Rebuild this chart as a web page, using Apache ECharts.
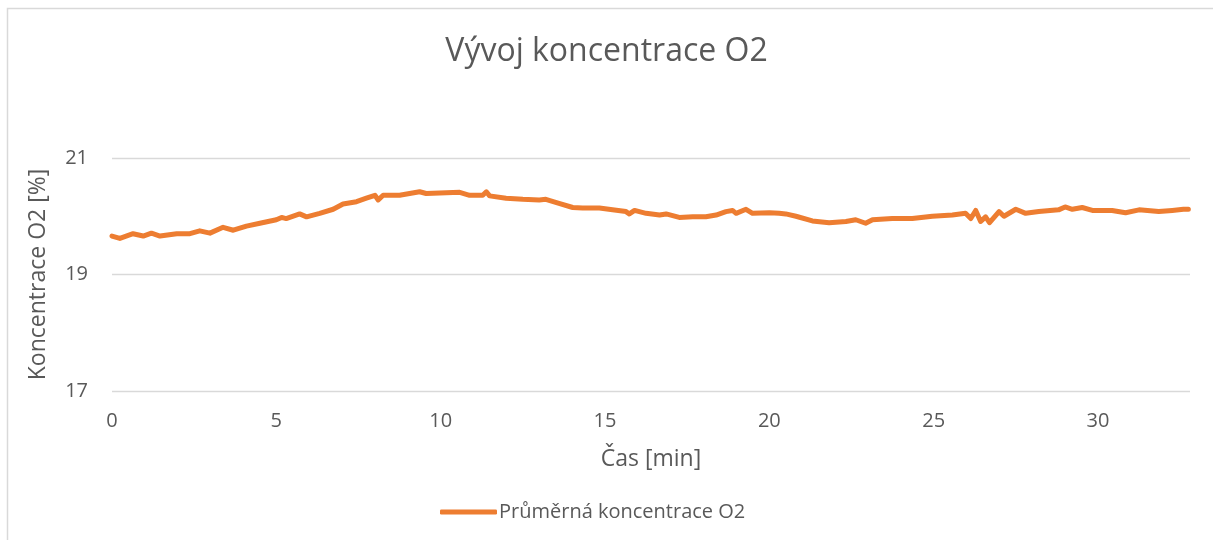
<!DOCTYPE html>
<html>
<head>
<meta charset="utf-8">
<script src="https://cdn.jsdelivr.net/npm/echarts@6/dist/echarts.min.js"></script>
<style>
  html, body { margin: 0; padding: 0; background: #fff; }
  #main { width: 1213px; height: 540px; }
</style>
</head>
<body>
<div id="main"></div>
<script>
// cas [min]
var casMin = [0, 0.24, 0.64, 0.95, 1.2, 1.46, 1.97, 2.37, 2.67, 2.98, 3.38, 3.69, 4.09, 4.5, 5.0, 5.16, 5.3, 5.71, 5.92, 6.32,
  6.73, 7.03, 7.44, 7.74, 8.0, 8.1, 8.25, 8.75, 9.36, 9.56, 9.97, 10.58, 10.88, 11.28, 11.39, 11.49, 11.99, 12.5, 13.0, 13.2,
  13.6, 14.02, 14.32, 14.83, 15.23, 15.64, 15.74, 15.9, 16.25, 16.66, 16.86, 17.26, 17.67, 18.07, 18.38, 18.68, 18.88, 18.99, 19.29, 19.49,
  20.0, 20.3, 20.5, 20.81, 21.31, 21.82, 22.33, 22.63, 22.93, 23.14, 23.74, 24.35, 24.96, 25.57, 25.97, 26.13, 26.28, 26.43, 26.58, 26.7,
  26.99, 27.14, 27.5, 27.8, 28.2, 28.8, 29.0, 29.22, 29.52, 29.83, 30.43, 30.84, 31.25, 31.85, 32.26, 32.6, 32.75];
// prumerna koncentrace O2 [%]
var koncentraceO2 = [19.66, 19.62, 19.70, 19.66, 19.71, 19.66, 19.70, 19.70, 19.75, 19.71, 19.81, 19.76, 19.83, 19.88, 19.94, 19.98, 19.96, 20.04, 19.99, 20.05,
  20.12, 20.21, 20.25, 20.31, 20.36, 20.28, 20.36, 20.36, 20.42, 20.39, 20.40, 20.41, 20.36, 20.36, 20.42, 20.35, 20.31, 20.29, 20.28, 20.29,
  20.22, 20.15, 20.14, 20.14, 20.11, 20.08, 20.04, 20.10, 20.05, 20.02, 20.04, 19.98, 19.99, 19.99, 20.02, 20.08, 20.10, 20.05, 20.12, 20.05,
  20.06, 20.05, 20.04, 20.00, 19.92, 19.89, 19.91, 19.94, 19.88, 19.94, 19.96, 19.96, 20.00, 20.02, 20.05, 19.96, 20.10, 19.91, 19.99, 19.89,
  20.08, 20.00, 20.12, 20.05, 20.08, 20.11, 20.16, 20.12, 20.15, 20.10, 20.10, 20.06, 20.11, 20.08, 20.10, 20.12, 20.12];

var textColor = '#595959';
var fontName = 'Open Sans';

var seriesData = [];
for (var i = 0; i < casMin.length; i++) {
  seriesData.push([casMin[i], koncentraceO2[i]]);
}

var myChart = echarts.init(document.getElementById('main'), null, { renderer: 'canvas' });
var option = {
  backgroundColor: '#fff',
  animation: false,
  textStyle: { fontFamily: fontName },
  title: {
    text: 'Vývoj koncentrace O2',
    left: 'center',
    top: 31,
    textStyle: { fontSize: 32, fontWeight: 'normal', color: textColor, fontFamily: fontName }
  },
  graphic: [{
    type: 'rect',
    shape: { x: 7.5, y: 8.5, width: 1230, height: 560 },
    style: { fill: 'none', stroke: '#D9D9D9', lineWidth: 1.5 },
    silent: true
  }],
  legend: {
    bottom: 13,
    left: 435,
    icon: 'roundRect',
    itemWidth: 57,
    itemHeight: 5,
    textStyle: { fontSize: 20, color: textColor, padding: [0, 0, 0, -3] },
    data: ['Průměrná koncentrace O2']
  },
  grid: { left: 112, right: 23, top: 158, bottom: 149 },
  xAxis: {
    type: 'value',
    min: 0,
    max: 32.8,
    interval: 5,
    name: 'Čas [min]',
    nameLocation: 'middle',
    nameGap: 57,
    nameTextStyle: { fontSize: 23, color: textColor },
    axisLine: { show: false },
    axisTick: { show: false },
    splitLine: { show: false },
    axisLabel: { fontSize: 20, color: textColor, margin: 20, showMaxLabel: false }
  },
  yAxis: {
    type: 'value',
    min: 17,
    max: 21,
    interval: 2,
    name: 'Koncentrace O2 [%]',
    nameLocation: 'middle',
    nameGap: 62,
    nameTextStyle: { fontSize: 23, color: textColor },
    axisLine: { show: false },
    axisTick: { show: false },
    splitLine: { lineStyle: { color: '#D9D9D9', width: 1.3 } },
    axisLabel: { fontSize: 20, color: textColor, margin: 24 }
  },
  series: [{
    name: 'Průměrná koncentrace O2',
    type: 'line',
    data: seriesData,
    showSymbol: false,
    smooth: false,
    itemStyle: { color: '#ED7D31' },
    lineStyle: { color: '#ED7D31', width: 5, cap: 'round', join: 'round' }
  }]
};
myChart.setOption(option);
</script>
</body>
</html>
